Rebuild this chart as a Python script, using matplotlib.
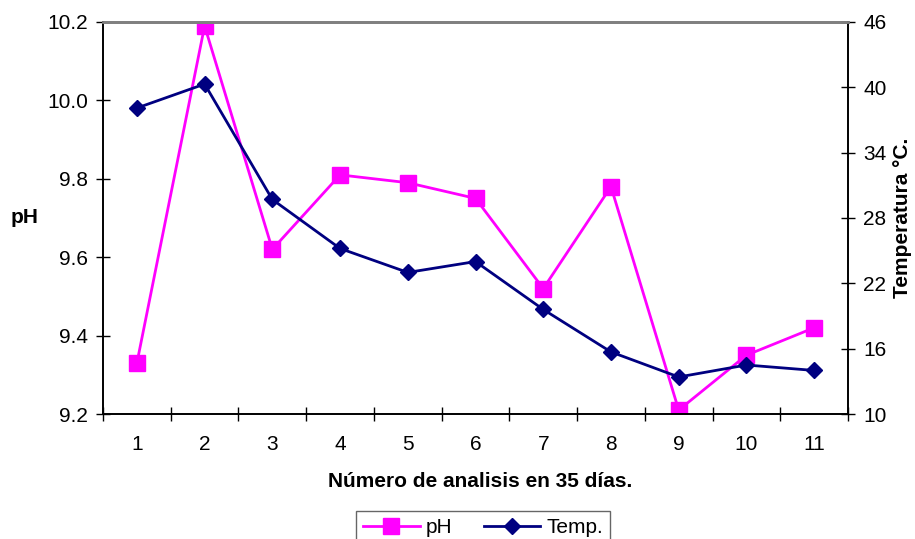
import matplotlib.pyplot as plt
from matplotlib.ticker import FixedLocator, NullFormatter

plt.rcParams['font.family'] = ['Liberation Sans', 'DejaVu Sans']

# data
dias = [1, 2, 3, 4, 5, 6, 7, 8, 9, 10, 11]
ph = [9.33, 10.19, 9.62, 9.81, 9.79, 9.75, 9.52, 9.78, 9.21, 9.35, 9.42]
temp = [38.1, 40.3, 29.7, 25.2, 23.0, 24.0, 19.6, 15.7, 13.4, 14.5, 14.0]
ph_ticks = [9.2, 9.4, 9.6, 9.8, 10.0, 10.2]
temp_ticks = [10, 16, 22, 28, 34, 40, 46]

fig = plt.figure(figsize=(9.15, 5.39), dpi=100)
ax = fig.add_axes([0.1126, 0.2319, 0.8142, 0.7273])
ax2 = ax.twinx()

l1, = ax.plot(dias, ph, color='#FF00FF', lw=2, marker='s', ms=12, label='pH')
l2, = ax2.plot(dias, temp, color='#000080', lw=2, marker='D', ms=8.5, label='Temp.')

ax.set_xlim(0.5, 11.5)
ax.set_ylim(9.2, 10.2)
ax2.set_ylim(10, 46)
ax.set_yticks(ph_ticks)
ax.set_yticklabels(['%.1f' % v for v in ph_ticks])
ax2.set_yticks(temp_ticks)

# category labels centred, tick marks on the boundaries
ax.set_xticks(dias)
ax.tick_params(axis='x', which='major', length=0, pad=15)
ax.xaxis.set_minor_locator(FixedLocator([d + 0.5 for d in [0] + dias]))
ax.xaxis.set_minor_formatter(NullFormatter())
ax.tick_params(axis='x', which='minor', direction='inout', length=10, width=1)
ax.tick_params(axis='y', direction='inout', length=10, width=1, pad=6)
ax2.tick_params(axis='y', direction='inout', length=10, width=1, pad=6)
for a in (ax, ax2):
    a.tick_params(labelsize=15)
    for s in a.spines.values():
        s.set_linewidth(1.2)
    a.spines['top'].set_color('#808080')
    a.spines['top'].set_linewidth(2)

fig.text(0.5246, 1 - 472 / 539, 'Número de analisis en 35 días.', fontsize=15,
         fontweight='bold', ha='center', va='top')
fig.text(25 / 915, 1 - 218 / 539, 'pH', fontsize=15, fontweight='bold', ha='center', va='center')
fig.text(903 / 915, 1 - 218 / 539, 'Temperatura °C.', fontsize=15, fontweight='bold',
         rotation=90, ha='center', va='center')

leg = fig.legend([l1, l2], ['pH', 'Temp.'], loc='upper center', bbox_to_anchor=(0.528, 0.052),
                 ncol=2, fontsize=15, frameon=True, fancybox=False, handlelength=2.7,
                 handletextpad=0.3, columnspacing=1.5, borderpad=0.35, borderaxespad=0)
leg.get_frame().set_edgecolor('#404040')
leg.get_frame().set_linewidth(1)

fig.savefig('out.png', dpi=100)
